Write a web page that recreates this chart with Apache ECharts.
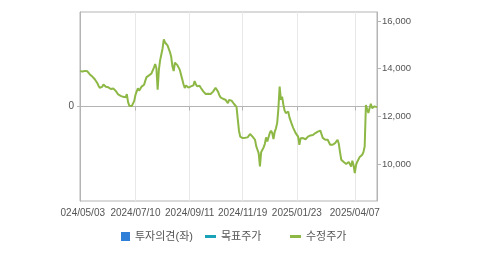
<!DOCTYPE html>
<html><head><meta charset="utf-8">
<script src="https://cdn.jsdelivr.net/npm/echarts@6/dist/echarts.min.js"></script>
<style>
html,body{margin:0;padding:0;background:#fff;}
#clip{position:absolute;left:60px;top:0;width:419px;height:255px;overflow:hidden;}
#chart{position:absolute;left:-60px;top:0;width:479px;height:255px;}
</style></head>
<body>
<div id="clip"><div id="chart"></div></div>
<script>
// Trading calendar (KRX) 2024/05/03 - 2025/05/02
const startDate = '2024-05-03';
const endDate = '2025-05-02';
const holidays = ['2024-05-06','2024-05-15','2024-06-06','2024-08-15','2024-09-16','2024-09-17','2024-09-18','2024-10-01','2024-10-03','2024-10-09','2024-12-25','2024-12-31','2025-01-01','2025-01-27','2025-01-28','2025-01-29','2025-01-30','2025-03-03','2025-05-01'];
const tickLabels = ['2024/05/03','2024/07/10','2024/09/11','2024/11/19','2025/01/23','2025/04/07'];
const rightTicks = [10000, 12000, 14000, 16000];
const leftTicks = [0];

// 수정주가 (adjusted price), one value per trading day
const adjPrice = [
13900,13920,13880,13900,13910,13870,13890,13850,13760,13720,
13670,13600,13560,13500,13400,13290,13200,13160,13240,13340,
13300,13240,13190,13220,13170,13150,13210,13170,13110,13070,
13000,12920,12880,12860,12840,12820,12850,12800,12930,12600,
12450,12400,12430,12460,12650,12900,13050,13180,13080,13150,
13250,13280,13330,13500,13650,13680,13720,13740,13800,13880,
14050,14200,14020,13120,13950,14350,14600,14850,15230,15100,
15060,14980,14920,14700,14500,14100,13900,14250,14300,14150,
14100,13950,13750,13550,13350,13190,13300,13280,13210,13230,
13260,13200,13300,13480,13350,13260,13300,13290,13200,13120,
13050,12980,12940,12930,12950,12930,12940,12980,13040,13100,
13200,13120,13040,12900,12800,12780,12740,12760,12700,12620,
12560,12690,12630,12660,12690,12520,12490,12400,11900,11400,
11150,11110,11090,11080,11100,11090,11120,11180,11260,11200,
11150,11080,11020,10750,10600,10450,9900,10500,10600,10700,
10850,11120,10950,10980,11300,11400,11300,11050,11350,11500,
11720,12350,13250,12700,12830,12500,12250,12140,12180,12200,
11950,11800,11650,11520,11450,11300,11250,11150,10810,11080,
11150,11090,11060,11040,11020,11150,11120,11200,11230,11220,
11250,11300,11280,11360,11370,11400,11250,11100,11050,11020,
11080,11020,10950,10810,10820,10810,10850,10880,10950,11020,
10850,10500,10180,10120,10085,10050,10000,10050,10085,10000,
9900,10140,9950,9620,9970,10100,10180,10300,10320,10390,
10500,10740,12480,12300,12140,12350,12530,12350,12300,12420,
12380,12390
];
const opinion = [];   // 투자의견(좌) - no data shown
const target = [];    // 목표주가 - no data shown

function pad(n){return (n<10?'0':'')+n;}
const dates = [];
(function(){
  const hol = new Set(holidays);
  let d = new Date(startDate+'T00:00:00Z');
  const end = new Date(endDate+'T00:00:00Z');
  while (d <= end) {
    const wd = d.getUTCDay();
    const iso = d.getUTCFullYear()+'-'+pad(d.getUTCMonth()+1)+'-'+pad(d.getUTCDate());
    if (wd !== 0 && wd !== 6 && !hol.has(iso)) dates.push(iso.replace(/-/g,'/'));
    d = new Date(d.getTime()+86400000);
  }
})();
const tickSet = new Set(tickLabels);
const showTick = (idx, val) => tickSet.has(val);

const FONT = 'Arial, "Liberation Sans", "Noto Sans CJK KR", sans-serif';
const chart = echarts.init(document.getElementById('chart'), null, {renderer:'canvas'});
const legendText = {fontSize:11, color:'#555', fontFamily:FONT};
chart.setOption({
  animation:false,
  textStyle:{fontFamily:FONT},
  grid:{left:80, right:102, top:12, bottom:54, show:true, borderColor:'#b4b4b4', borderWidth:1, backgroundColor:'transparent'},
  legend:[
    {left:116, top:226, itemWidth:9, itemHeight:9, selectedMode:false,
     data:[{name:'투자의견(좌)', icon:'rect'}], textStyle:legendText},
    {left:200, top:226, itemWidth:11, itemHeight:3, selectedMode:false,
     data:[{name:'목표주가', icon:'rect', itemStyle:{color:'#1aa3b8'}}], textStyle:legendText},
    {left:285, top:226, itemWidth:11, itemHeight:3, selectedMode:false,
     data:[{name:'수정주가', icon:'rect', itemStyle:{color:'#8db845'}}], textStyle:legendText}
  ],
  xAxis:{
    type:'category', data:dates, boundaryGap:false,
    axisLine:{show:true, lineStyle:{color:'#b4b4b4'}},
    axisTick:{show:true, length:4, interval:showTick, lineStyle:{color:'#b4b4b4'}},
    axisLabel:{interval:showTick, margin:7, fontSize:10, color:'#555', fontFamily:FONT},
    splitLine:{show:true, interval:showTick, lineStyle:{color:'#e8e8e8'}}
  },
  yAxis:[
    {type:'value', position:'left', min:-1, max:1, interval:1,
     axisLine:{show:true, lineStyle:{color:'#b4b4b4'}},
     axisTick:{show:true, length:3, customValues:leftTicks, lineStyle:{color:'#b4b4b4'}},
     axisLabel:{margin:6, fontSize:10, color:'#555', fontFamily:FONT, customValues:leftTicks},
     splitLine:{show:true, lineStyle:{color:'#e8e8e8'}}},
    {type:'value', position:'right', min:8450, max:16380,
     axisLine:{show:true, lineStyle:{color:'#b4b4b4'}},
     axisTick:{show:true, length:4, customValues:rightTicks, lineStyle:{color:'#b4b4b4'}},
     axisLabel:{margin:5, fontSize:9.5, color:'#555', fontFamily:FONT, customValues:rightTicks,
       formatter:v => v.toLocaleString('en-US')},
     splitLine:{show:false}}
  ],
  series:[
    {name:'투자의견(좌)', type:'bar', yAxisIndex:0, data:opinion, itemStyle:{color:'#2f7ed8'}},
    {name:'목표주가', type:'line', yAxisIndex:1, data:target, symbol:'none', color:'#1aa3b8', lineStyle:{width:2, color:'#1aa3b8'}},
    {name:'수정주가', type:'line', yAxisIndex:1, data:adjPrice, symbol:'none', color:'#8db845', lineStyle:{width:2, color:'#8db845'}}
  ]
});
</script>
</body></html>
